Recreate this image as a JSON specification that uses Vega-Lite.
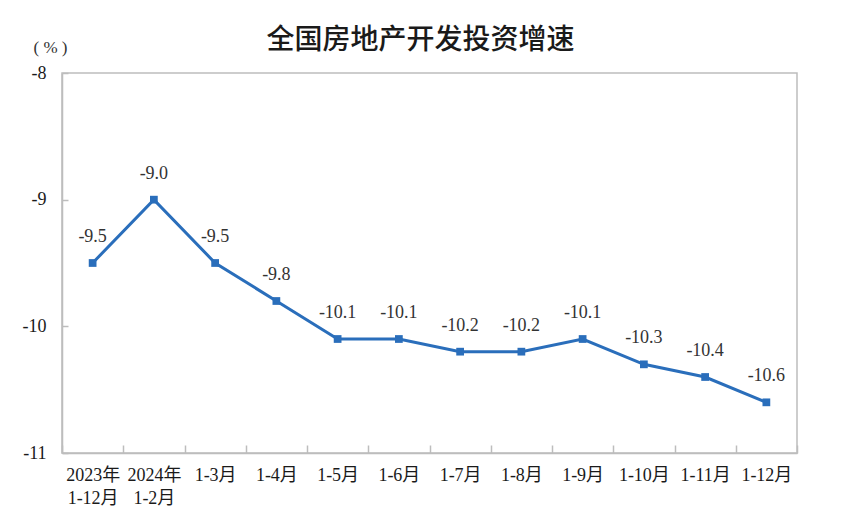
{
  "$schema": "https://vega.github.io/schema/vega-lite/v6.json",
  "autosize": "none",
  "width": 735,
  "height": 380,
  "padding": {"left": 62, "top": 73, "right": 47, "bottom": 78},
  "background": "white",
  "config": {
    "locale": {"number": {"decimal": ".", "thousands": ",", "grouping": [3], "currency": ["", ""], "minus": "-"}},
    "view": {"stroke": "#bdbdbd", "strokeWidth": 1.5},
    "font": "Liberation Serif"
  },
  "title": {
    "text": "全国房地产开发投资增速",
    "font": "Noto Sans CJK SC",
    "fontSize": 28,
    "fontWeight": 500,
    "color": "#1a1a1a",
    "anchor": "middle",
    "dx": -9,
    "dy": 33,
    "offset": 16
  },
  "data": {
    "values": [
      {"period": "2023年|1-12月", "value": -9.5},
      {"period": "2024年|1-2月", "value": -9.0},
      {"period": "1-3月", "value": -9.5},
      {"period": "1-4月", "value": -9.8},
      {"period": "1-5月", "value": -10.1},
      {"period": "1-6月", "value": -10.1},
      {"period": "1-7月", "value": -10.2},
      {"period": "1-8月", "value": -10.2},
      {"period": "1-9月", "value": -10.1},
      {"period": "1-10月", "value": -10.3},
      {"period": "1-11月", "value": -10.4},
      {"period": "1-12月", "value": -10.6}
    ]
  },
  "encoding": {
    "x": {
      "field": "period",
      "type": "nominal",
      "sort": null,
      "scale": {"paddingInner": 0, "paddingOuter": 0},
      "axis": {
        "title": null,
        "labelAngle": 0,
        "labelExpr": "split(datum.label, '|')",
        "labelFont": "Liberation Serif, Noto Sans CJK SC",
        "labelFontSize": 18,
        "labelColor": "#1a1a1a",
        "labelLineHeight": 23,
        "labelPadding": 21,
        "tickBand": "extent",
        "tickSize": -8,
        "tickColor": "#bdbdbd",
        "tickWidth": 1.5,
        "domainColor": "#bdbdbd",
        "domainWidth": 1.5,
        "grid": false
      }
    },
    "y": {
      "field": "value",
      "type": "quantitative",
      "scale": {"domain": [-11, -8], "nice": false, "zero": false},
      "axis": {
        "title": "( % )",
        "titleAngle": 0,
        "titleFont": "Liberation Serif",
        "titleFontSize": 17,
        "titleFontWeight": "normal",
        "titleColor": "#333333",
        "titleX": -12,
        "titleY": -26,
        "titleAlign": "center",
        "titleBaseline": "middle",
        "values": [-8, -9, -10, -11],
        "format": "d",
        "labelFont": "Liberation Serif",
        "labelFontSize": 18,
        "labelColor": "#1a1a1a",
        "labelPadding": 22,
        "tickSize": -6,
        "tickColor": "#bdbdbd",
        "tickWidth": 1.5,
        "domainColor": "#bdbdbd",
        "domainWidth": 1.5,
        "grid": false
      }
    }
  },
  "layer": [
    {
      "mark": {"type": "line", "color": "#2a6ebb", "strokeWidth": 3}
    },
    {
      "mark": {"type": "square", "color": "#2a6ebb", "size": 60, "opacity": 1, "filled": true}
    },
    {
      "mark": {"type": "text", "dy": -26, "fontSize": 18, "font": "Liberation Serif", "color": "#333333"},
      "encoding": {
        "text": {"field": "value", "type": "quantitative", "format": ".1f"}
      }
    }
  ]
}
